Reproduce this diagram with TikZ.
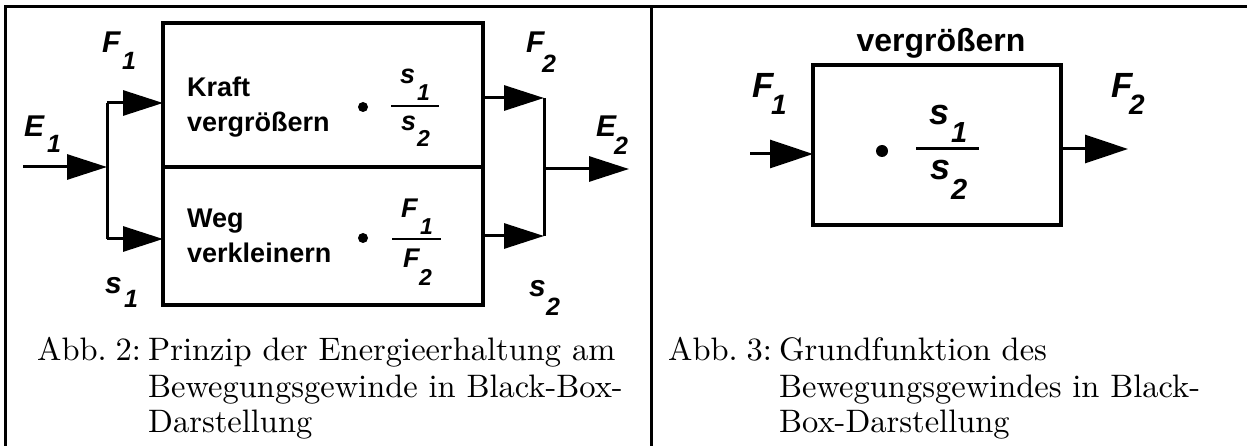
\documentclass[tikz,border=0pt]{standalone}
\usepackage{fontspec}
\newfontfamily\hv{Liberation Sans}
\newfontfamily\capfont{lmroman10-regular}[Extension=.otf]
\usetikzlibrary{arrows.meta}
\tikzset{
  frameline/.style={line width=3.5pt},
  box/.style={draw, line width=3.5pt, rectangle, inner sep=0pt, outer sep=0pt, anchor=north west},
  wire/.style={line width=3pt},
  arr/.style={wire, -{Triangle[length=40pt,width=25pt]}},
  arrb/.style={wire, -{Triangle[length=43pt,width=28pt]}},
  lab/.style={font=\hv\bfseries\itshape\fontsize{#1}{#1}\selectfont, inner sep=0pt, anchor=base west},
  btxt/.style={font=\hv\bfseries\fontsize{#1}{#1}\selectfont, inner sep=0pt, anchor=base west},
  capt/.style={font=\capfont\fontsize{32.5}{36}\selectfont, inner sep=0pt, anchor=base west},
}
\begin{document}
\begin{tikzpicture}[x=1pt,y=-1pt]
\useasboundingbox (0,0) rectangle (1247,446);
% frame
\draw[frameline] (5.5,446) -- (5.5,6.5) -- (1247,6.5);
\draw[frameline] (651.5,6.5) -- (651.5,446);

% ---------- left panel ----------
\node[box, minimum width=320pt, minimum height=144pt] (kraft) at (163,23) {};
\node[box, minimum width=320pt, minimum height=138pt] (weg) at (163,167) {};
\node[btxt=27] (t1) at (187,97) {Kraft};
\node[btxt=27] (t2) at (187,132) {vergrößern};
\node[btxt=27] (t3) at (187,228) {Weg};
\node[btxt=27] (t4) at (187,263) {verkleinern};
\fill (363,107) circle (5);
\fill (363,238) circle (5);
% fraction s1/s2
\node[lab=27] (fa1) at (400,84) {s};
\node[lab=23] (fa1s) at (417,101) {1};
\draw[line width=2.5pt] (391,106) -- (439,106);
\node[lab=27] (fa2) at (401,131) {s};
\node[lab=23] (fa2s) at (417,147) {2};
% fraction F1/F2
\node[lab=27] (fb1) at (401,218) {F};
\node[lab=23] (fb1s) at (420,235) {1};
\draw[line width=2.5pt] (392,239) -- (441,239);
\node[lab=27] (fb2) at (403,268) {F};
\node[lab=23] (fb2s) at (419,285) {2};

% connectors left
\coordinate (e1in) at (23,167);
\coordinate (j1) at (107,167);
\coordinate (j1t) at (107,103);
\coordinate (j1b) at (107,239);
\draw[arr] (e1in) -- (j1);
\draw[wire] (j1t) -- (j1b);
\draw[arr] (j1t) -- (kraft.west |- j1t);
\draw[arr] (j1b) -- (weg.west |- j1b);
\coordinate (j2t) at (544,98);
\coordinate (j2b) at (544,236);
\coordinate (j2) at (544,169);
\coordinate (e2out) at (629,169);
\draw[arr] (kraft.east |- j2t) -- (j2t);
\draw[arr] (weg.east |- j2b) -- (j2b);
\draw[wire] (j2t) -- (j2b);
\draw[arr] (j2) -- (e2out);

% labels left
\node[lab=30] (F1) at (102,53) {F};
\node[lab=25] (F1s) at (122,70) {1};
\node[lab=30] (E1) at (24,137) {E};
\node[lab=25] (E1s) at (47,153) {1};
\node[lab=30] (s1) at (105,294) {s};
\node[lab=25] (s1s) at (124,307) {1};
\node[lab=30] (F2) at (526,53) {F};
\node[lab=25] (F2s) at (542,73) {2};
\node[lab=30] (E2) at (596,137) {E};
\node[lab=25] (E2s) at (614,155) {2};
\node[lab=30] (s2) at (529,297) {s};
\node[lab=25] (s2s) at (546,315) {2};

% ---------- right panel ----------
\node[box, minimum width=248pt, minimum height=160pt] (vbox) at (813,65) {};
\node[btxt=32, anchor=base] (vt) at (941,52) {vergrößern};
\fill (882,151) circle (6);
\node[lab=36] (rs1) at (929,125) {s};
\node[lab=29] (rs1s) at (951,143) {1};
\draw[line width=3pt] (916,149) -- (979,149);
\node[lab=36] (rs2) at (930,180) {s};
\node[lab=29] (rs2s) at (951,200) {2};
\coordinate (rin) at (750,154);
\coordinate (rout) at (1128,149);
\draw[arrb] (rin) -- (vbox.west |- rin);
\draw[arrb] (vbox.east |- rout) -- (rout);
\node[lab=35] (rF1) at (752,98) {F};
\node[lab=28] (rF1s) at (771,115) {1};
\node[lab=35] (rF2) at (1111,98) {F};
\node[lab=28] (rF2s) at (1129,115) {2};

% ---------- captions ----------
\node[capt, anchor=base east] (c2a) at (141,360) {Abb.\kern-2pt\ 2:};
\node[capt] (c2b) at (148,360) {Prinzip der Energieerhaltung am};
\node[capt] (c2c) at (148,397) {Bewegungsgewinde in Black-Box-};
\node[capt] (c2d) at (148,432) {Darstellung};
\node[capt, anchor=base east] (c3a) at (772,360) {Abb.\kern-2pt\ 3:};
\node[capt] (c3b) at (779,360) {Grundfunktion des};
\node[capt] (c3c) at (779,397) {Bewegungsgewindes in Black-};
\node[capt] (c3d) at (779,432) {Box-Darstellung};
\end{tikzpicture}
\end{document}
